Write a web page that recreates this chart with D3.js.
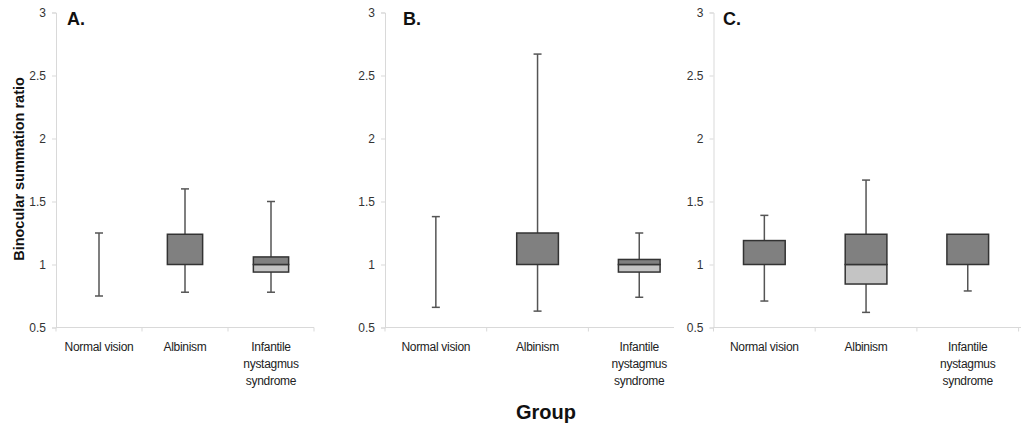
<!DOCTYPE html>
<html>
<head>
<meta charset="utf-8">
<script src="https://cdn.jsdelivr.net/npm/d3@7"></script>
<style>
  html, body { margin: 0; padding: 0; background: #fff; }
  svg { display: block; font-family: Arial, "Liberation Sans", sans-serif; }
</style>
</head>
<body>
<svg id="chart" width="1021" height="426"></svg>
<script>
// Groups on the x axis (label lines for wrapping)
const groups = ["Normal vision", "Albinism", "Infantile nystagmus syndrome"];
const groupLines = [["Normal vision"], ["Albinism"], ["Infantile", "nystagmus", "syndrome"]];
const panelLetters = ["A.", "B.", "C."];
const yTicks = [0.5, 1, 1.5, 2, 2.5, 3];

// Box-plot statistics per panel, one value per group
const whiskerLow  = [[0.75, 0.78, 0.78], [0.66, 0.63, 0.74], [0.71, 0.62, 0.79]];
const quartile1   = [[1.00, 1.00, 0.94], [1.00, 1.00, 0.94], [1.00, 0.845, 1.00]];
const medians     = [[1.00, 1.00, 1.00], [1.00, 1.00, 1.00], [1.00, 1.00, 1.00]];
const quartile3   = [[1.00, 1.24, 1.06], [1.00, 1.25, 1.04], [1.19, 1.24, 1.24]];
const whiskerHigh = [[1.25, 1.60, 1.50], [1.38, 2.67, 1.25], [1.39, 1.67, 1.24]];

// Panel layout: plot-area left edge, band step, visible end of the x axis line
const panelLayout = [
  { left: 56,    step: 86,    axisEnd: 314,  letterX: 67 },
  { left: 385,   step: 101.7, axisEnd: 674,  letterX: 403 },
  { left: 713.5, step: 101.7, axisEnd: 1021, letterX: 723 }
];

const svg = d3.select("#chart");
const y = d3.scaleLinear().domain([0.5, 3]).range([327.5, 12.5]);

const axisColor = "#d9d9d9";
const darkFill = "#808080";
const lightFill = "#c4c4c4";
const boxStroke = "#333";
const whiskColor = "#555";

panelLayout.forEach((lay, p) => {
  const x = d3.scaleBand().domain(groups)
    .range([lay.left, lay.left + lay.step * 3]).padding(0);
  const g = svg.append("g");

  // y axis
  const yAxis = g.append("g")
    .attr("transform", `translate(${lay.left},0)`)
    .call(d3.axisLeft(y).tickValues(yTicks).tickSize(4).tickPadding(6)
      .tickFormat(d3.format("")));
  yAxis.select(".domain").attr("stroke", axisColor);
  yAxis.selectAll(".tick line").attr("stroke", axisColor);
  yAxis.selectAll(".tick text").attr("fill", "#333").attr("font-size", 12);

  // x axis line, clipped to the visible extent
  g.append("line")
    .attr("x1", lay.left).attr("x2", lay.axisEnd)
    .attr("y1", y(0.5)).attr("y2", y(0.5))
    .attr("stroke", axisColor);
  // band boundary ticks
  const bounds = groups.map(d => x(d)).concat([x.range()[1]])
    .filter(v => v <= lay.axisEnd + 0.5);
  g.selectAll(".xtick").data(bounds).join("line")
    .attr("x1", d => d).attr("x2", d => d)
    .attr("y1", y(0.5)).attr("y2", y(0.5) + 4)
    .attr("stroke", axisColor);

  // category labels
  groups.forEach((grp, i) => {
    const t = g.append("text")
      .attr("x", x(grp) + x.bandwidth() / 2)
      .attr("y", 351)
      .attr("text-anchor", "middle")
      .attr("font-size", 12)
      .attr("letter-spacing", -0.3)
      .attr("fill", "#222");
    groupLines[i].forEach((line, k) => {
      t.append("tspan")
        .attr("x", x(grp) + x.bandwidth() / 2)
        .attr("dy", k === 0 ? 0 : 17)
        .text(line);
    });
  });

  // boxes and whiskers
  const boxW = lay.step * 0.41;
  const capW = 8;
  groups.forEach((grp, i) => {
    const cx = x(grp) + x.bandwidth() / 2;
    const lo = whiskerLow[p][i], q1 = quartile1[p][i], md = medians[p][i],
          q3 = quartile3[p][i], hi = whiskerHigh[p][i];
    const hasBox = q3 > q1;

    const whisk = (a, b) => g.append("line")
      .attr("x1", cx).attr("x2", cx)
      .attr("y1", y(a)).attr("y2", y(b))
      .attr("stroke", whiskColor).attr("stroke-width", 1.5);
    const cap = v => g.append("line")
      .attr("x1", cx - capW / 2).attr("x2", cx + capW / 2)
      .attr("y1", y(v)).attr("y2", y(v))
      .attr("stroke", whiskColor).attr("stroke-width", 1.5);

    if (!hasBox) {
      whisk(lo, hi); cap(lo); cap(hi);
      return;
    }
    if (lo < q1) { whisk(lo, q1); cap(lo); }
    if (hi > q3) { whisk(q3, hi); cap(hi); }

    // lower section (Q1 to median) in light grey
    if (md > q1) {
      g.append("rect")
        .attr("x", cx - boxW / 2).attr("width", boxW)
        .attr("y", y(md)).attr("height", y(q1) - y(md))
        .attr("fill", lightFill).attr("stroke", boxStroke).attr("stroke-width", 1.5);
    }
    // upper section (median to Q3) in dark grey
    if (q3 > md) {
      g.append("rect")
        .attr("x", cx - boxW / 2).attr("width", boxW)
        .attr("y", y(q3)).attr("height", y(md) - y(q3))
        .attr("fill", darkFill).attr("stroke", boxStroke).attr("stroke-width", 1.5);
    }
  });

  // panel letter
  g.append("text")
    .attr("x", lay.letterX).attr("y", 25)
    .attr("font-size", 18).attr("font-weight", "bold")
    .attr("fill", "#111")
    .text(panelLetters[p]);
});

// y axis title
svg.append("text")
  .attr("transform", "translate(24,169) rotate(-90)")
  .attr("text-anchor", "middle")
  .attr("font-size", 14.5).attr("font-weight", "bold")
  .attr("fill", "#111")
  .text("Binocular summation ratio");

// x axis title
svg.append("text")
  .attr("x", 546).attr("y", 419)
  .attr("text-anchor", "middle")
  .attr("font-size", 20).attr("font-weight", "bold")
  .attr("fill", "#111")
  .text("Group");
</script>
</body>
</html>
